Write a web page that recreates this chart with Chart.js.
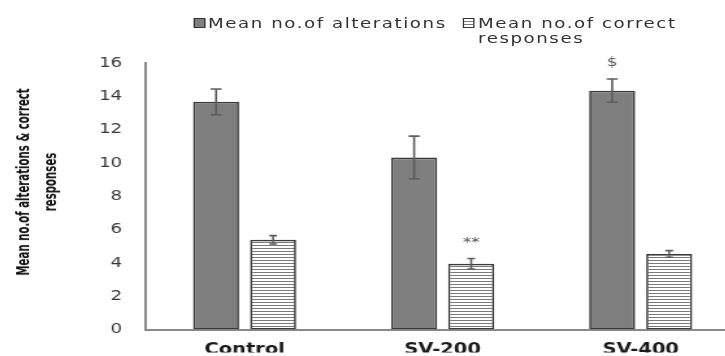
<!DOCTYPE html>
<html><head><meta charset="utf-8">
<script src="https://cdn.jsdelivr.net/npm/chart.js@4.4.1/dist/chart.umd.min.js"></script>
<style>
html,body{margin:0;padding:0;background:#fff;overflow:hidden;width:725px;height:356px;}
#wrap{position:absolute;left:0;top:0;width:575px;height:356px;transform:scaleX(1.3);transform-origin:0 0;}
canvas{position:absolute;left:0;top:0;}
.leg{position:absolute;font-family:"DejaVu Sans",sans-serif;font-size:14px;letter-spacing:1.2px;color:#333;line-height:15px;white-space:nowrap;}
.mk{position:absolute;width:7px;height:8px;border:1px solid #333;}
#ytitle{position:absolute;left:-102px;top:161px;width:260px;height:42px;transform:rotate(-90deg) scaleX(0.87);transform-origin:50% 50%;
  font-family:"Liberation Sans Narrow","DejaVu Sans Condensed","Liberation Sans",sans-serif;font-weight:bold;font-size:13px;line-height:21px;text-align:center;color:#111;white-space:nowrap;}
</style></head>
<body>
<div id="wrap">
  <canvas id="c" width="575" height="356"></canvas>
  <div class="mk" style="left:148.5px;top:18px;background:#808080;"></div>
  <div class="leg" style="left:160px;top:15.5px;">Mean no.of alterations</div>
  <div class="mk" style="left:356px;top:18px;background:repeating-linear-gradient(to bottom,#fff 0 2px,#777 2px 3px);"></div>
  <div class="leg" style="left:367.7px;top:15.5px;">Mean no.of correct<br>responses</div>
  <div id="ytitle">Mean no.of alterations &amp; correct<br>responses</div>
</div>
<script>
const categories = ['Control', 'SV-200', 'SV-400'];
const alterations = [13.67, 10.33, 14.34];
const alterationsErr = [0.77, 1.28, 0.70];
const correctResponses = [5.39, 3.95, 4.54];
const correctResponsesErr = [0.25, 0.32, 0.20];
const alterationsMarks = ['', '', '$'];
const correctMarks = ['', '**', ''];
const yMin = 0, yMax = 16, yStep = 2;

function hatch() {
  const p = document.createElement('canvas');
  p.width = 4; p.height = 3;
  const g = p.getContext('2d');
  g.fillStyle = '#ffffff'; g.fillRect(0, 0, 4, 3);
  g.fillStyle = '#7a7a7a'; g.fillRect(0, 2, 4, 1);
  return g.createPattern(p, 'repeat');
}

const errorBars = {
  id: 'errorBars',
  afterDatasetsDraw(chart) {
    const ctx = chart.ctx, ys = chart.scales.y;
    chart.data.datasets.forEach((ds, di) => {
      const meta = chart.getDatasetMeta(di);
      meta.data.forEach((bar, i) => {
        const v = ds.data[i], e = ds.errors[i];
        const t = ys.getPixelForValue(v + e), b = ys.getPixelForValue(v - e);
        const x = bar.x, cap = ds.capWidth / 2;
        ctx.save();
        ctx.strokeStyle = '#5e5e5e';
        ctx.lineWidth = 1.6;
        ctx.beginPath();
        ctx.moveTo(x, t); ctx.lineTo(x, b);
        ctx.moveTo(x - cap, t); ctx.lineTo(x + cap, t);
        ctx.moveTo(x - cap, b); ctx.lineTo(x + cap, b);
        ctx.stroke();
        const m = ds.marks[i];
        if (m) {
          ctx.fillStyle = '#555';
          ctx.font = '13px "DejaVu Sans", sans-serif';
          ctx.textAlign = 'center';
          ctx.textBaseline = 'middle';
          ctx.fillText(m, x, t - 16);
        }
        ctx.restore();
      });
    });
  }
};

new Chart(document.getElementById('c'), {
  type: 'bar',
  data: {
    labels: categories,
    datasets: [
      { label: 'Mean no.of alterations', data: alterations, errors: alterationsErr, marks: alterationsMarks, capWidth: 8.5,
        backgroundColor: '#7f7f7f', borderColor: '#3a3a3a', borderWidth: 1.7, borderSkipped: false,
        categoryPercentage: 0.576, barPercentage: 0.807 },
      { label: 'Mean no.of correct responses', data: correctResponses, errors: correctResponsesErr, marks: correctMarks, capWidth: 6,
        backgroundColor: hatch(), borderColor: '#3a3a3a', borderWidth: 1.7, borderSkipped: false,
        categoryPercentage: 0.576, barPercentage: 0.807 }
    ]
  },
  options: {
    responsive: false,
    animation: false,
    devicePixelRatio: 1,
    layout: { padding: { left: 0, right: 6, top: 63, bottom: 0 } },
    plugins: { legend: { display: false }, tooltip: { enabled: false } },
    scales: {
      x: {
        grid: { display: false, drawTicks: false },
        border: { display: true, color: '#8a8a8a', width: 2 },
        ticks: { color: '#1a1a1a', padding: 12, font: { family: 'DejaVu Sans', size: 15, weight: 'bold' } },
        afterFit(s) { s.height = 23; }
      },
      y: {
        min: yMin, max: yMax,
        grid: { display: false, drawTicks: false },
        border: { display: true, color: '#8a8a8a', width: 2 },
        ticks: { stepSize: yStep, color: '#383838', padding: 18, font: { family: 'DejaVu Sans', size: 14 } },
        afterFit(s) { s.width = 112; }
      }
    }
  },
  plugins: [errorBars]
});
</script>
</body></html>
